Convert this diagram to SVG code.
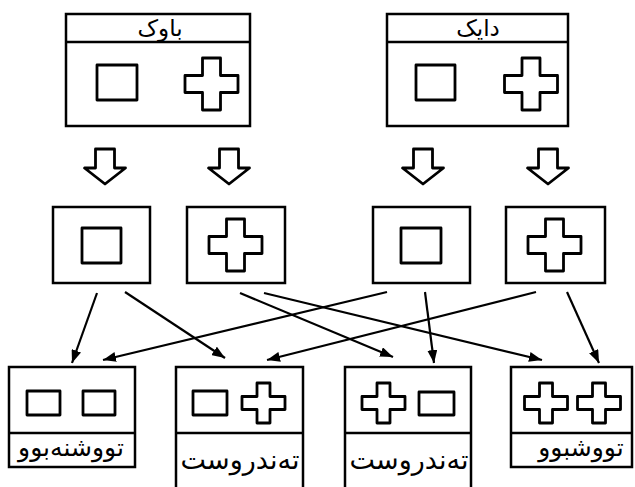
<svg xmlns="http://www.w3.org/2000/svg" width="635" height="487" viewBox="0 0 635 487">
  <style>
    .box { fill: #fff; stroke: #000; stroke-width: 2.5; }
    .shape { fill: #fff; stroke: #000; stroke-width: 2.8; stroke-linejoin: round; }
    .line { stroke: #000; stroke-width: 2.5; }
    .conn { stroke: #000; stroke-width: 2.2; fill: none; }
    .lbl { font-family: "DejaVu Sans", sans-serif; fill: #000; text-anchor: middle; }
  </style>
  <defs>
    <path id="crossL" d="M-9,-26 H9 V-8.5 H26.5 V8.5 H9 V26 H-9 V8.5 H-26.5 V-8.5 H-9 Z"/>
    <path id="crossS" d="M-6.5,-20 H6.5 V-6.5 H21.5 V6.5 H6.5 V20 H-6.5 V6.5 H-21.5 V-6.5 H-6.5 Z"/>
    <path id="hollowArrow" d="M-9.5,0 H9.5 V19 H20.5 L0,35 L-20.5,19 H-9.5 Z"/>
    <marker id="head" markerWidth="14" markerHeight="10" refX="13" refY="5" orient="auto" markerUnits="userSpaceOnUse">
      <path d="M0,0 L13,5 L0,10 Z" fill="#000"/>
    </marker>
  </defs>

  <!-- parents -->
  <g id="father">
    <rect class="box" x="66" y="14" width="184" height="112"/>
    <line class="line" x1="66" y1="42" x2="250" y2="42"/>
    <text class="lbl" x="160" y="36" font-size="23">باوک</text>
    <rect class="shape" x="97" y="65" width="40" height="35"/>
    <use href="#crossL" class="shape" transform="translate(211.5,84)"/>
  </g>
  <g id="mother">
    <rect class="box" x="387" y="14" width="181" height="112"/>
    <line class="line" x1="387" y1="42" x2="568" y2="42"/>
    <text class="lbl" x="478" y="36" font-size="23">دایک</text>
    <rect class="shape" x="416" y="65" width="39" height="35"/>
    <use href="#crossL" class="shape" transform="translate(531,84)"/>
  </g>

  <!-- separation arrows -->
  <g id="split-arrows">
    <use href="#hollowArrow" class="shape" transform="translate(105,149)"/>
    <use href="#hollowArrow" class="shape" transform="translate(229,149)"/>
    <use href="#hollowArrow" class="shape" transform="translate(423,149)"/>
    <use href="#hollowArrow" class="shape" transform="translate(548,149)"/>
  </g>

  <!-- gametes -->
  <g id="gamete-f1">
    <rect class="box" x="53" y="207" width="97" height="76"/>
    <rect class="shape" x="82" y="228" width="39" height="35"/>
  </g>
  <g id="gamete-f2">
    <rect class="box" x="187" y="207" width="98" height="76"/>
    <use href="#crossL" class="shape" transform="translate(235.5,245)"/>
  </g>
  <g id="gamete-m1">
    <rect class="box" x="373" y="207" width="97" height="76"/>
    <rect class="shape" x="401" y="228" width="40" height="35"/>
  </g>
  <g id="gamete-m2">
    <rect class="box" x="506" y="207" width="99" height="76"/>
    <use href="#crossL" class="shape" transform="translate(554.5,245)"/>
  </g>

  <!-- crossings -->
  <g id="connectors" marker-end="url(#head)">
    <line class="conn" x1="97" y1="293" x2="72" y2="363"/>
    <line class="conn" x1="125" y1="292" x2="225" y2="358"/>
    <line class="conn" x1="240" y1="293" x2="393" y2="357"/>
    <line class="conn" x1="264" y1="293" x2="542" y2="360"/>
    <line class="conn" x1="387" y1="292" x2="103" y2="360"/>
    <line class="conn" x1="425" y1="292" x2="434" y2="363"/>
    <line class="conn" x1="536" y1="292" x2="267" y2="360"/>
    <line class="conn" x1="567" y1="292" x2="599" y2="363"/>
  </g>

  <!-- offspring -->
  <g id="child-1">
    <rect class="box" x="9" y="367" width="126" height="100"/>
    <line class="line" x1="9" y1="433" x2="135" y2="433"/>
    <rect class="shape" x="27" y="391" width="33" height="24"/>
    <rect class="shape" x="83" y="391" width="32" height="24"/>
    <text class="lbl" x="71" y="456" font-size="25">تووشنەبوو</text>
  </g>
  <g id="child-2">
    <rect class="box" x="176" y="367" width="127" height="125"/>
    <line class="line" x1="176" y1="433" x2="303" y2="433"/>
    <rect class="shape" x="193" y="391" width="34" height="24"/>
    <use href="#crossS" class="shape" transform="translate(263.5,403)"/>
    <text class="lbl" x="240" y="469" font-size="27">تەندروست</text>
  </g>
  <g id="child-3">
    <rect class="box" x="345" y="367" width="126" height="125"/>
    <line class="line" x1="345" y1="433" x2="471" y2="433"/>
    <use href="#crossS" class="shape" transform="translate(383.5,403)"/>
    <rect class="shape" x="419" y="392" width="35" height="23"/>
    <text class="lbl" x="409" y="469" font-size="27">تەندروست</text>
  </g>
  <g id="child-4">
    <rect class="box" x="511" y="367" width="121" height="100"/>
    <line class="line" x1="511" y1="433" x2="632" y2="433"/>
    <use href="#crossS" class="shape" transform="translate(546,403)"/>
    <use href="#crossS" class="shape" transform="translate(599,403)"/>
    <text class="lbl" x="581" y="456" font-size="25">تووشبوو</text>
  </g>
</svg>
